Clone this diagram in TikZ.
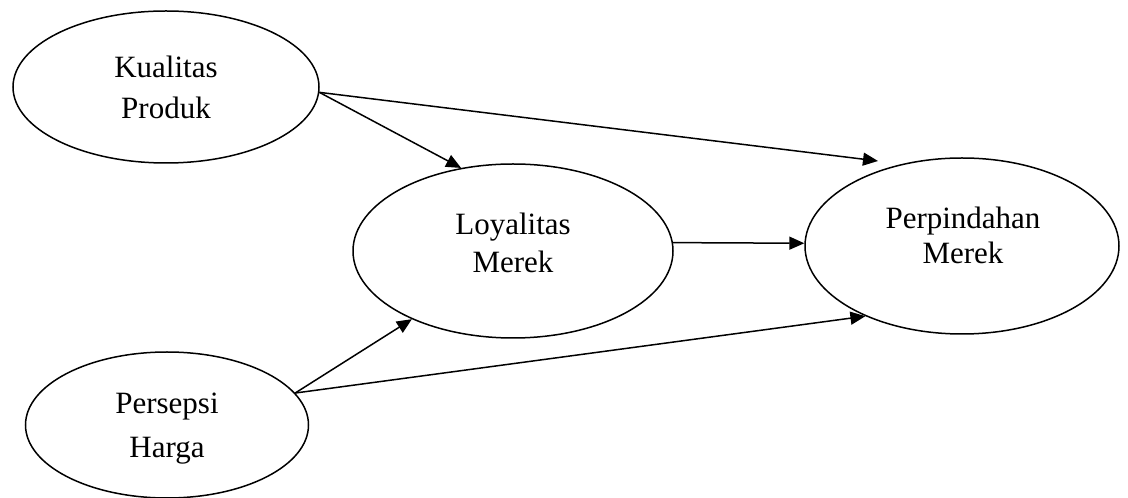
\documentclass[tikz,border=0pt]{standalone}
\usepackage{fontspec}
\setmainfont{Liberation Serif}
\usetikzlibrary{shapes.geometric,arrows.meta}
\begin{document}
\begin{tikzpicture}[x=1pt,y=1pt,
  oval/.style={ellipse, draw, line width=1.5pt, inner sep=0pt},
  lbl/.style={align=center, inner sep=0pt, font=\fontsize{31}{41}\selectfont},
  arr/.style={line width=1.5pt, -{Triangle[length=15pt,width=13pt]}}]
\useasboundingbox (0,0) rectangle (1128,498);
% ellipses
\node[oval, minimum width=306pt, minimum height=152pt] (kp) at (166,411) {};
\node[oval, minimum width=320pt, minimum height=174pt] (lm) at (513,247) {};
\node[oval, minimum width=314pt, minimum height=176pt] (pm) at (962,252) {};
\node[oval, minimum width=283pt, minimum height=146pt] (ph) at (167,73) {};
% labels
\node[lbl] (kpt) at (166,411) {Kualitas\\Produk};
\node[lbl, font=\fontsize{31}{38}\selectfont] (lmt) at (513,255) {Loyalitas\\Merek};
\node[lbl, font=\fontsize{31}{35}\selectfont] (pmt) at (963,263) {Perpindahan\\Merek};
\node[lbl, font=\fontsize{31}{44}\selectfont] (pht) at (167,69) {Persepsi\\Harga};
% connectors
\coordinate (t1) at (878,337);
\draw[arr] (kp.-2) -- (t1);
\draw[arr] (kp.-2) -- (lm.122);
\draw[arr] (ph.14) -- (lm.214);
\draw[arr] (ph.14) -- (pm.216);
\draw[arr] (lm.3) -- (pm.179);
\end{tikzpicture}
\end{document}
